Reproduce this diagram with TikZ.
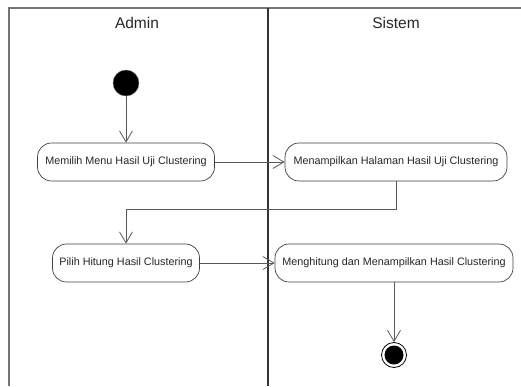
\documentclass[tikz,border=0pt]{standalone}
\usepackage{fontspec}
\setmainfont{Liberation Sans}
\usetikzlibrary{arrows.meta}
\begin{document}
\begin{tikzpicture}[x=1pt,y=-1pt,
  act/.style={draw=black!75, fill=white, rounded corners=14pt, minimum height=38pt,
    inner xsep=0pt, font=\fontsize{10.8}{13}\selectfont, text=black!85, line width=0.7pt},
  flow/.style={draw=black!65, line width=0.8pt, -{Straight Barb[length=11pt,width=13pt]}},
  title/.style={font=\fontsize{15.5}{18}\selectfont, text=black!85}]
\useasboundingbox (0,0) rectangle (521,386);
% swimlane frame
\draw[black!55, line width=1.2pt] (9,386) -- (9,8) -- (521,8);
\draw[black!80, line width=1.5pt] (268,8) -- (268,386);
\node[title] (laneA) at (137,23) {Admin};
\node[title] (laneS) at (396,23) {Sistem};
% start and end states
\node[circle, fill=black, draw=black!60, minimum size=26pt, inner sep=0pt] (start) at (126,83) {};
\node[circle, draw=black, line width=0.8pt, minimum size=25pt, inner sep=0pt] (end) at (394,355) {};
\node[circle, fill=black, minimum size=19pt, inner sep=0pt] (endin) at (end.center) {};
% activities
\node[act, minimum width=177pt] (n1) at (126,162) {Memilih Menu Hasil Uji Clustering};
\node[act, minimum width=222pt] (n2) at (396,162) {Menampilkan Halaman Hasil Uji Clustering};
\node[act, minimum width=147pt] (n3) at (126,263) {Pilih Hitung Hasil Clustering};
\node[act, minimum width=238pt] (n4) at (394,263) {Menghitung dan Menampilkan Hasil Clustering};
% transitions
\draw[flow] (start) -- (n1);
\draw[flow] (n1) -- (n2);
\draw[flow] (n2.south) -- ++(0,28) -| (n3.north);
\draw[flow] (n3) -- (n4);
\draw[flow] (n4) -- (end);
\end{tikzpicture}
\end{document}
